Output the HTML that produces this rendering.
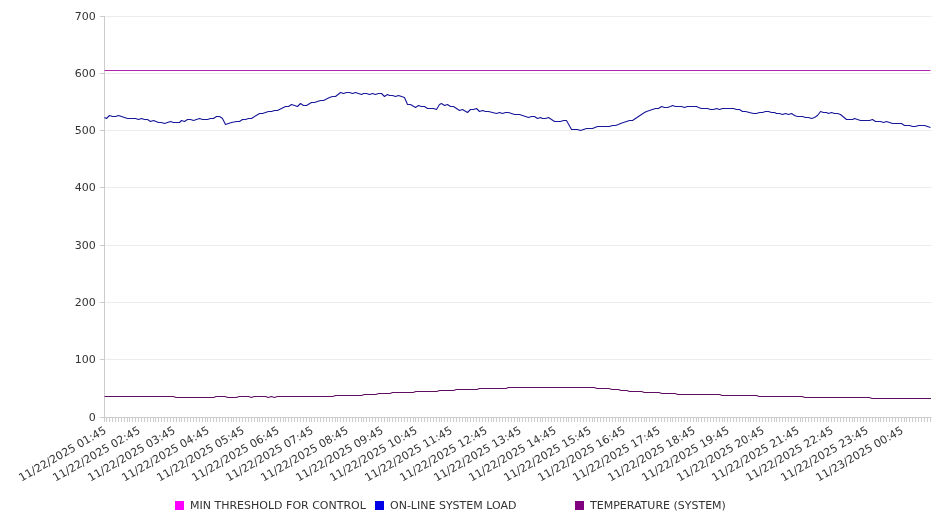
<!DOCTYPE html>
<html><head><meta charset="utf-8"><title>Chart</title>
<style>html,body{margin:0;padding:0;background:#fff}svg{display:block}text{font-family:"DejaVu Sans","Liberation Sans",sans-serif;font-size:11px;fill:#333}</style></head><body>
<svg width="946" height="526" viewBox="0 0 946 526">
<rect width="946" height="526" fill="#fff"/>
<line x1="100.0" y1="417.5" x2="104.5" y2="417.5" stroke="#cccccc" stroke-width="1"/>
<text x="95.8" y="421.0" text-anchor="end">0</text>
<line x1="104.5" y1="359.5" x2="931.5" y2="359.5" stroke="#ececec" stroke-width="1"/>
<line x1="100.0" y1="359.5" x2="104.5" y2="359.5" stroke="#cccccc" stroke-width="1"/>
<text x="95.8" y="363.0" text-anchor="end">100</text>
<line x1="104.5" y1="302.5" x2="931.5" y2="302.5" stroke="#ececec" stroke-width="1"/>
<line x1="100.0" y1="302.5" x2="104.5" y2="302.5" stroke="#cccccc" stroke-width="1"/>
<text x="95.8" y="306.0" text-anchor="end">200</text>
<line x1="104.5" y1="245.5" x2="931.5" y2="245.5" stroke="#ececec" stroke-width="1"/>
<line x1="100.0" y1="245.5" x2="104.5" y2="245.5" stroke="#cccccc" stroke-width="1"/>
<text x="95.8" y="249.0" text-anchor="end">300</text>
<line x1="104.5" y1="187.5" x2="931.5" y2="187.5" stroke="#ececec" stroke-width="1"/>
<line x1="100.0" y1="187.5" x2="104.5" y2="187.5" stroke="#cccccc" stroke-width="1"/>
<text x="95.8" y="191.0" text-anchor="end">400</text>
<line x1="104.5" y1="130.5" x2="931.5" y2="130.5" stroke="#ececec" stroke-width="1"/>
<line x1="100.0" y1="130.5" x2="104.5" y2="130.5" stroke="#cccccc" stroke-width="1"/>
<text x="95.8" y="134.0" text-anchor="end">500</text>
<line x1="104.5" y1="73.5" x2="931.5" y2="73.5" stroke="#ececec" stroke-width="1"/>
<line x1="100.0" y1="73.5" x2="104.5" y2="73.5" stroke="#cccccc" stroke-width="1"/>
<text x="95.8" y="77.0" text-anchor="end">600</text>
<line x1="104.5" y1="16.5" x2="931.5" y2="16.5" stroke="#ececec" stroke-width="1"/>
<line x1="100.0" y1="16.5" x2="104.5" y2="16.5" stroke="#cccccc" stroke-width="1"/>
<text x="95.8" y="20.0" text-anchor="end">700</text>
<line x1="104.5" y1="16" x2="104.5" y2="418.0" stroke="#cccccc" stroke-width="1"/>
<line x1="104.5" y1="417.5" x2="931.5" y2="417.5" stroke="#cccccc" stroke-width="1"/>
<path d="M104.5 417.5v4.5M106.5 417.5v4.5M109.5 417.5v4.5M112.5 417.5v4.5M115.5 417.5v4.5M118.5 417.5v4.5M121.5 417.5v4.5M124.5 417.5v4.5M127.5 417.5v4.5M129.5 417.5v4.5M132.5 417.5v4.5M135.5 417.5v4.5M138.5 417.5v4.5M141.5 417.5v4.5M144.5 417.5v4.5M147.5 417.5v4.5M150.5 417.5v4.5M153.5 417.5v4.5M155.5 417.5v4.5M158.5 417.5v4.5M161.5 417.5v4.5M164.5 417.5v4.5M167.5 417.5v4.5M170.5 417.5v4.5M173.5 417.5v4.5M176.5 417.5v4.5M179.5 417.5v4.5M181.5 417.5v4.5M184.5 417.5v4.5M187.5 417.5v4.5M190.5 417.5v4.5M193.5 417.5v4.5M196.5 417.5v4.5M199.5 417.5v4.5M202.5 417.5v4.5M205.5 417.5v4.5M207.5 417.5v4.5M210.5 417.5v4.5M213.5 417.5v4.5M216.5 417.5v4.5M219.5 417.5v4.5M222.5 417.5v4.5M225.5 417.5v4.5M228.5 417.5v4.5M231.5 417.5v4.5M233.5 417.5v4.5M236.5 417.5v4.5M239.5 417.5v4.5M242.5 417.5v4.5M245.5 417.5v4.5M248.5 417.5v4.5M251.5 417.5v4.5M254.5 417.5v4.5M257.5 417.5v4.5M259.5 417.5v4.5M262.5 417.5v4.5M265.5 417.5v4.5M268.5 417.5v4.5M271.5 417.5v4.5M274.5 417.5v4.5M277.5 417.5v4.5M280.5 417.5v4.5M283.5 417.5v4.5M285.5 417.5v4.5M288.5 417.5v4.5M291.5 417.5v4.5M294.5 417.5v4.5M297.5 417.5v4.5M300.5 417.5v4.5M303.5 417.5v4.5M306.5 417.5v4.5M309.5 417.5v4.5M311.5 417.5v4.5M314.5 417.5v4.5M317.5 417.5v4.5M320.5 417.5v4.5M323.5 417.5v4.5M326.5 417.5v4.5M329.5 417.5v4.5M332.5 417.5v4.5M335.5 417.5v4.5M337.5 417.5v4.5M340.5 417.5v4.5M343.5 417.5v4.5M346.5 417.5v4.5M349.5 417.5v4.5M352.5 417.5v4.5M355.5 417.5v4.5M358.5 417.5v4.5M361.5 417.5v4.5M363.5 417.5v4.5M366.5 417.5v4.5M369.5 417.5v4.5M372.5 417.5v4.5M375.5 417.5v4.5M378.5 417.5v4.5M381.5 417.5v4.5M384.5 417.5v4.5M387.5 417.5v4.5M389.5 417.5v4.5M392.5 417.5v4.5M395.5 417.5v4.5M398.5 417.5v4.5M401.5 417.5v4.5M404.5 417.5v4.5M407.5 417.5v4.5M410.5 417.5v4.5M413.5 417.5v4.5M415.5 417.5v4.5M418.5 417.5v4.5M421.5 417.5v4.5M424.5 417.5v4.5M427.5 417.5v4.5M430.5 417.5v4.5M433.5 417.5v4.5M436.5 417.5v4.5M439.5 417.5v4.5M441.5 417.5v4.5M444.5 417.5v4.5M447.5 417.5v4.5M450.5 417.5v4.5M453.5 417.5v4.5M456.5 417.5v4.5M459.5 417.5v4.5M462.5 417.5v4.5M465.5 417.5v4.5M467.5 417.5v4.5M470.5 417.5v4.5M473.5 417.5v4.5M476.5 417.5v4.5M479.5 417.5v4.5M482.5 417.5v4.5M485.5 417.5v4.5M488.5 417.5v4.5M491.5 417.5v4.5M493.5 417.5v4.5M496.5 417.5v4.5M499.5 417.5v4.5M502.5 417.5v4.5M505.5 417.5v4.5M508.5 417.5v4.5M511.5 417.5v4.5M514.5 417.5v4.5M517.5 417.5v4.5M519.5 417.5v4.5M522.5 417.5v4.5M525.5 417.5v4.5M528.5 417.5v4.5M531.5 417.5v4.5M534.5 417.5v4.5M537.5 417.5v4.5M540.5 417.5v4.5M542.5 417.5v4.5M545.5 417.5v4.5M548.5 417.5v4.5M551.5 417.5v4.5M554.5 417.5v4.5M557.5 417.5v4.5M560.5 417.5v4.5M563.5 417.5v4.5M566.5 417.5v4.5M568.5 417.5v4.5M571.5 417.5v4.5M574.5 417.5v4.5M577.5 417.5v4.5M580.5 417.5v4.5M583.5 417.5v4.5M586.5 417.5v4.5M589.5 417.5v4.5M592.5 417.5v4.5M594.5 417.5v4.5M597.5 417.5v4.5M600.5 417.5v4.5M603.5 417.5v4.5M606.5 417.5v4.5M609.5 417.5v4.5M612.5 417.5v4.5M615.5 417.5v4.5M618.5 417.5v4.5M620.5 417.5v4.5M623.5 417.5v4.5M626.5 417.5v4.5M629.5 417.5v4.5M632.5 417.5v4.5M635.5 417.5v4.5M638.5 417.5v4.5M641.5 417.5v4.5M644.5 417.5v4.5M646.5 417.5v4.5M649.5 417.5v4.5M652.5 417.5v4.5M655.5 417.5v4.5M658.5 417.5v4.5M661.5 417.5v4.5M664.5 417.5v4.5M667.5 417.5v4.5M670.5 417.5v4.5M672.5 417.5v4.5M675.5 417.5v4.5M678.5 417.5v4.5M681.5 417.5v4.5M684.5 417.5v4.5M687.5 417.5v4.5M690.5 417.5v4.5M693.5 417.5v4.5M696.5 417.5v4.5M698.5 417.5v4.5M701.5 417.5v4.5M704.5 417.5v4.5M707.5 417.5v4.5M710.5 417.5v4.5M713.5 417.5v4.5M716.5 417.5v4.5M719.5 417.5v4.5M722.5 417.5v4.5M724.5 417.5v4.5M727.5 417.5v4.5M730.5 417.5v4.5M733.5 417.5v4.5M736.5 417.5v4.5M739.5 417.5v4.5M742.5 417.5v4.5M745.5 417.5v4.5M748.5 417.5v4.5M750.5 417.5v4.5M753.5 417.5v4.5M756.5 417.5v4.5M759.5 417.5v4.5M762.5 417.5v4.5M765.5 417.5v4.5M768.5 417.5v4.5M771.5 417.5v4.5M774.5 417.5v4.5M776.5 417.5v4.5M779.5 417.5v4.5M782.5 417.5v4.5M785.5 417.5v4.5M788.5 417.5v4.5M791.5 417.5v4.5M794.5 417.5v4.5M797.5 417.5v4.5M800.5 417.5v4.5M802.5 417.5v4.5M805.5 417.5v4.5M808.5 417.5v4.5M811.5 417.5v4.5M814.5 417.5v4.5M817.5 417.5v4.5M820.5 417.5v4.5M823.5 417.5v4.5M826.5 417.5v4.5M828.5 417.5v4.5M831.5 417.5v4.5M834.5 417.5v4.5M837.5 417.5v4.5M840.5 417.5v4.5M843.5 417.5v4.5M846.5 417.5v4.5M849.5 417.5v4.5M852.5 417.5v4.5M854.5 417.5v4.5M857.5 417.5v4.5M860.5 417.5v4.5M863.5 417.5v4.5M866.5 417.5v4.5M869.5 417.5v4.5M872.5 417.5v4.5M875.5 417.5v4.5M878.5 417.5v4.5M880.5 417.5v4.5M883.5 417.5v4.5M886.5 417.5v4.5M889.5 417.5v4.5M892.5 417.5v4.5M895.5 417.5v4.5M898.5 417.5v4.5M901.5 417.5v4.5M904.5 417.5v4.5M906.5 417.5v4.5M909.5 417.5v4.5M912.5 417.5v4.5M915.5 417.5v4.5M918.5 417.5v4.5M921.5 417.5v4.5M924.5 417.5v4.5M927.5 417.5v4.5M930.5 417.5v4.5" stroke="#cccccc" stroke-width="1" fill="none"/>
<text transform="translate(107.0,432.5) rotate(-30)" text-anchor="end">11/22/2025 01:45</text>
<text transform="translate(141.0,432.5) rotate(-30)" text-anchor="end">11/22/2025 02:45</text>
<text transform="translate(176.0,432.5) rotate(-30)" text-anchor="end">11/22/2025 03:45</text>
<text transform="translate(210.0,432.5) rotate(-30)" text-anchor="end">11/22/2025 04:45</text>
<text transform="translate(245.0,432.5) rotate(-30)" text-anchor="end">11/22/2025 05:45</text>
<text transform="translate(280.0,432.5) rotate(-30)" text-anchor="end">11/22/2025 06:45</text>
<text transform="translate(314.0,432.5) rotate(-30)" text-anchor="end">11/22/2025 07:45</text>
<text transform="translate(349.0,432.5) rotate(-30)" text-anchor="end">11/22/2025 08:45</text>
<text transform="translate(384.0,432.5) rotate(-30)" text-anchor="end">11/22/2025 09:45</text>
<text transform="translate(418.0,432.5) rotate(-30)" text-anchor="end">11/22/2025 10:45</text>
<text transform="translate(453.0,432.5) rotate(-30)" text-anchor="end">11/22/2025 11:45</text>
<text transform="translate(488.0,432.5) rotate(-30)" text-anchor="end">11/22/2025 12:45</text>
<text transform="translate(522.0,432.5) rotate(-30)" text-anchor="end">11/22/2025 13:45</text>
<text transform="translate(557.0,432.5) rotate(-30)" text-anchor="end">11/22/2025 14:45</text>
<text transform="translate(592.0,432.5) rotate(-30)" text-anchor="end">11/22/2025 15:45</text>
<text transform="translate(626.0,432.5) rotate(-30)" text-anchor="end">11/22/2025 16:45</text>
<text transform="translate(661.0,432.5) rotate(-30)" text-anchor="end">11/22/2025 17:45</text>
<text transform="translate(696.0,432.5) rotate(-30)" text-anchor="end">11/22/2025 18:45</text>
<text transform="translate(730.0,432.5) rotate(-30)" text-anchor="end">11/22/2025 19:45</text>
<text transform="translate(765.0,432.5) rotate(-30)" text-anchor="end">11/22/2025 20:45</text>
<text transform="translate(800.0,432.5) rotate(-30)" text-anchor="end">11/22/2025 21:45</text>
<text transform="translate(834.0,432.5) rotate(-30)" text-anchor="end">11/22/2025 22:45</text>
<text transform="translate(869.0,432.5) rotate(-30)" text-anchor="end">11/22/2025 23:45</text>
<text transform="translate(904.0,432.5) rotate(-30)" text-anchor="end">11/23/2025 00:45</text>
<line x1="104.5" y1="70.5" x2="930.5" y2="70.5" stroke="#b024b0" stroke-width="1.1"/>
<polyline points="104.5,117.5 106.5,118.5 109.5,115.5 112.5,116.5 115.5,116.5 118.5,115.5 127.5,118.5 135.5,118.5 138.5,119.5 141.5,118.5 144.5,119.5 147.5,119.5 150.5,121.5 153.5,120.5 158.5,122.5 161.5,122.5 164.5,123.5 170.5,121.5 173.5,122.5 179.5,122.5 181.5,120.5 184.5,121.5 187.5,119.5 190.5,119.5 193.5,120.5 199.5,118.5 202.5,119.5 207.5,119.5 210.5,118.5 213.5,118.5 216.5,116.5 219.5,116.5 222.5,118.5 225.5,124.5 231.5,122.5 236.5,121.5 239.5,121.5 242.5,119.5 245.5,119.5 248.5,118.5 251.5,118.5 259.5,113.5 262.5,113.5 268.5,111.5 271.5,111.5 274.5,110.5 277.5,110.5 283.5,107.5 285.5,106.5 288.5,106.5 291.5,104.5 294.5,105.5 297.5,106.5 300.5,103.5 303.5,105.5 306.5,105.5 311.5,102.5 314.5,102.5 320.5,100.5 323.5,100.5 329.5,97.5 332.5,96.5 335.5,96.5 340.5,92.5 343.5,93.5 346.5,92.5 349.5,92.5 352.5,93.5 355.5,92.5 358.5,93.5 361.5,94.5 363.5,93.5 366.5,93.5 369.5,94.5 372.5,93.5 375.5,94.5 378.5,93.5 381.5,93.5 384.5,96.5 387.5,94.5 389.5,95.5 392.5,95.5 395.5,96.5 398.5,95.5 401.5,96.5 404.5,97.5 407.5,104.5 410.5,104.5 415.5,107.5 418.5,105.5 421.5,106.5 424.5,106.5 427.5,108.5 430.5,108.5 433.5,108.5 436.5,109.5 439.5,104.5 441.5,103.5 444.5,105.5 447.5,104.5 450.5,106.5 453.5,106.5 459.5,110.5 462.5,109.5 467.5,112.5 470.5,109.5 473.5,109.5 476.5,108.5 479.5,111.5 482.5,110.5 485.5,111.5 488.5,111.5 496.5,113.5 499.5,112.5 502.5,113.5 505.5,112.5 508.5,112.5 514.5,114.5 519.5,114.5 528.5,117.5 531.5,116.5 534.5,116.5 537.5,118.5 540.5,117.5 542.5,118.5 545.5,118.5 548.5,117.5 554.5,121.5 560.5,121.5 563.5,120.5 566.5,120.5 571.5,129.5 577.5,129.5 580.5,130.5 586.5,128.5 592.5,128.5 597.5,126.5 609.5,126.5 612.5,125.5 615.5,125.5 618.5,124.5 620.5,123.5 623.5,122.5 626.5,121.5 629.5,120.5 632.5,120.5 635.5,118.5 638.5,116.5 641.5,114.5 644.5,112.5 646.5,111.5 649.5,110.5 652.5,109.5 655.5,108.5 658.5,108.5 661.5,106.5 664.5,107.5 667.5,107.5 670.5,106.5 672.5,105.5 675.5,106.5 681.5,106.5 684.5,107.5 687.5,106.5 696.5,106.5 698.5,107.5 701.5,108.5 704.5,108.5 707.5,108.5 710.5,109.5 713.5,109.5 716.5,108.5 719.5,109.5 722.5,108.5 733.5,108.5 736.5,109.5 739.5,109.5 742.5,111.5 745.5,111.5 753.5,113.5 756.5,113.5 759.5,112.5 762.5,112.5 765.5,111.5 768.5,111.5 771.5,112.5 774.5,112.5 776.5,113.5 779.5,113.5 782.5,114.5 785.5,113.5 788.5,114.5 791.5,113.5 794.5,115.5 797.5,116.5 802.5,116.5 805.5,117.5 808.5,117.5 811.5,118.5 814.5,117.5 817.5,115.5 820.5,111.5 823.5,112.5 826.5,112.5 828.5,113.5 831.5,112.5 834.5,113.5 837.5,113.5 840.5,114.5 846.5,119.5 849.5,119.5 852.5,119.5 854.5,118.5 860.5,120.5 869.5,120.5 872.5,119.5 875.5,121.5 880.5,121.5 883.5,122.5 886.5,121.5 892.5,123.5 901.5,123.5 904.5,125.5 909.5,125.5 912.5,126.5 915.5,126.5 918.5,125.5 924.5,125.5 930.5,127.5" fill="none" stroke="#18189a" stroke-width="1.1" stroke-linejoin="round"/>
<polyline points="104.5,396.5 173.3,396.5 176.2,397.5 213.6,397.5 216.3,396.5 224.9,396.5 227.8,397.5 236.3,397.5 239.2,396.5 248.6,396.5 251.4,397.5 254.2,396.5 265.4,396.5 268.3,397.5 268.3,397.5 271.4,396.5 274.4,397.5 277.4,396.5 332.8,396.5 335.6,395.5 361.6,395.5 364.4,394.5 375.9,394.5 378.7,393.5 389.9,393.5 392.6,392.5 413.1,392.5 415.9,391.5 436.8,391.5 439.6,390.5 453.6,390.5 456.4,389.5 476.9,389.5 479.6,388.5 505.9,388.5 508.6,387.5 594.2,387.5 597.0,388.5 609.0,388.5 611.9,389.5 618.4,389.5 621.1,390.5 626.8,390.5 629.5,391.5 641.5,391.5 644.4,392.5 659.0,392.5 661.8,393.5 675.0,393.5 677.9,394.5 719.5,394.5 722.2,395.5 756.4,395.5 759.1,396.5 802.0,396.5 804.9,397.5 869.3,397.5 872.1,398.5 931.0,398.5" fill="none" stroke="#5e0e5e" stroke-width="1.05" stroke-linejoin="round"/>
<rect x="175" y="501" width="9" height="9" fill="#ff00ff"/>
<text x="190" y="509">MIN THRESHOLD FOR CONTROL</text>
<rect x="375" y="501" width="9" height="9" fill="#0000e6"/>
<text x="390" y="509">ON-LINE SYSTEM LOAD</text>
<rect x="575" y="501" width="9" height="9" fill="#800080"/>
<text x="590" y="509">TEMPERATURE (SYSTEM)</text>
</svg>
</body></html>
